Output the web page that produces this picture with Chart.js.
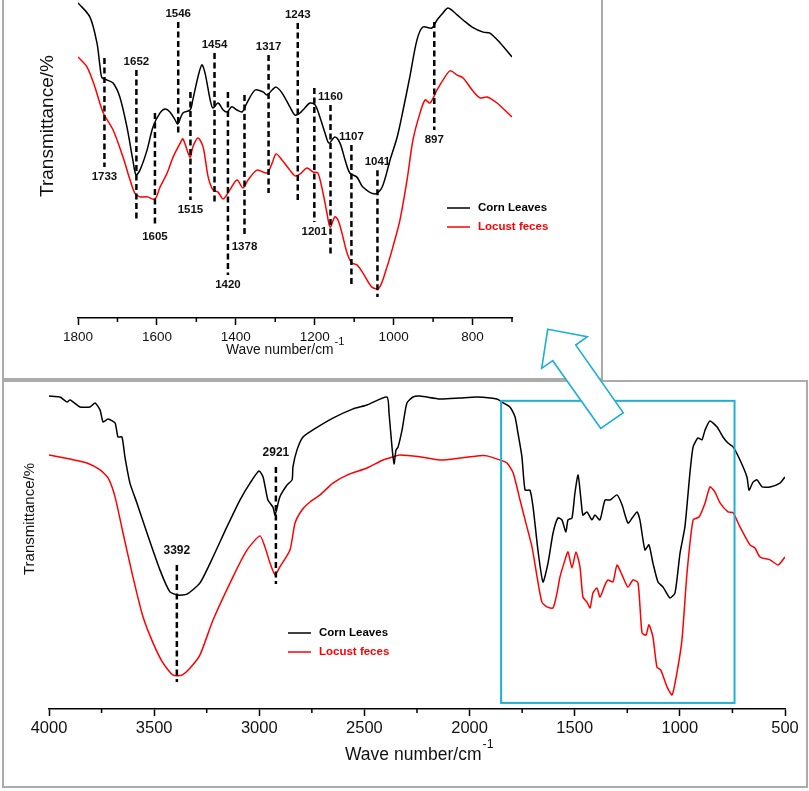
<!DOCTYPE html>
<html>
<head>
<meta charset="utf-8">
<title>FTIR spectra</title>
<script src="https://cdn.jsdelivr.net/npm/chart.js@4.4.1/dist/chart.umd.min.js"></script>
<style>
    body{margin:0;background:#fff;width:809px;height:791px;position:relative;overflow:hidden}
    .panel{position:absolute;border:2px solid #ababab;box-sizing:border-box}
    #p1{left:2px;top:-2px;width:601px;height:382px}
    #p2{left:2px;top:380px;width:806px;height:408px}
    canvas{position:absolute}
    #c1{left:0;top:0}
    #c2{left:0;top:381px}
    #arrow{position:absolute;left:0;top:0}
</style>
</head>
<body>
<div class="panel" id="p1"></div>
<div class="panel" id="p2"></div>
<canvas id="c1" width="602" height="379"></canvas>
<canvas id="c2" width="809" height="410"></canvas>
<svg id="arrow" width="809" height="791">
    <polygon points="547.7,329.3 587.3,336.7 575.7,345 623.3,412.7 600.7,428.3 552.7,360.7 541.7,368.3"
             fill="#fff" stroke="#1fb0d2" stroke-width="1.6"/>
</svg>
<script>
    var FONT = "'Liberation Sans', Arial, sans-serif";
    var seriesNames = ['Corn Leaves', 'Locust feces'];
    var seriesColors = ['#000000', '#ff0000'];

    // zoomed panel, 1800-700 cm-1
    var topTicks = [1800, 1600, 1400, 1200, 1000, 800];
    var topMinor = [1700, 1500, 1300, 1100, 900, 700];
    var topCornWave = [1800,1770,1752,1744,1739,1726,1711,1694,1676,1661,1653,1643,1625,1610,1592,1579,1567,1554,1547,1534,
        1516,1509,1496,1486,1478,1465,1458,1445,1432,1422,1410,1397,1384,1372,1351,1331,1321,1308,1298,1283,
        1263,1250,1237,1230,1212,1199,1187,1174,1164,1149,1136,1123,1111,1093,1078,1047,1029,1009,991,976,
        959,941,926,903,890,875,862,839,824,801,773,756,730,700];
    var topCornT = [99.1,94.7,86.5,78.9,75.5,74.8,73.9,69.5,60.1,49.7,45.0,46.5,52.8,60.1,64.5,65.7,64.8,62.3,61.0,64.5,
        65.4,68.6,75.8,79.6,77.0,68.6,66.0,67.6,65.4,64.8,66.4,65.4,64.8,67.6,71.7,71.1,70.1,71.7,72.6,70.8,
        66.4,63.8,64.5,65.4,67.6,67.0,63.2,58.2,55.0,56.9,55.0,49.7,45.6,44.3,41.2,39.0,41.2,49.7,56.9,65.4,
        75.8,87.4,91.5,91.2,93.7,95.9,97.5,95.3,93.7,91.5,89.9,89.6,86.5,82.1];
    var topLocustWave = [1800,1777,1757,1737,1711,1686,1668,1656,1643,1625,1605,1592,1574,1559,1541,1534,1516,1509,1496,1483,
        1470,1458,1445,1432,1415,1397,1382,1369,1346,1321,1308,1298,1283,1263,1250,1237,1220,1204,1192,1179,
        1169,1161,1149,1141,1131,1118,1106,1093,1078,1055,1037,1017,1002,984,966,951,933,920,908,890,
        875,857,839,824,801,781,763,738,700];
    var topLocustT = [82.1,78.9,72.6,64.8,59.1,50.6,43.4,39.3,38.1,38.1,37.4,41.2,45.6,50.6,55.0,56.3,50.6,53.8,56.6,53.8,
        44.3,40.3,39.6,37.4,40.3,43.4,40.9,43.4,46.5,45.6,48.7,51.6,49.7,46.5,44.7,45.3,47.2,45.9,45.6,39.3,
        33.0,28.6,31.8,30.8,26.7,20.4,17.3,16.7,14.2,9.7,9.4,16.0,22.3,30.8,43.4,56.0,64.5,68.6,67.6,71.7,
        74.8,77.7,76.4,75.5,71.7,69.2,69.5,67.6,63.2];
    var topPeaks = [1733, 1652, 1605, 1546, 1515, 1454, 1420, 1378, 1317, 1243, 1201, 1160, 1107, 1041, 897];
    var topPeakHi = [81.8, 78.0, 64.5, 93.1, 71.1, 83.3, 71.1, 70.1, 82.7, 92.8, 72.3, 67.0, 54.4, 46.5, 93.1];
    var topPeakLo = [47.5, 30.2, 28.6, 57.5, 37.1, 35.5, 13.5, 25.5, 39.3, 37.1, 30.2, 19.2, 9.7, 6.6, 59.1];
    var topPeakSide = ['below','above','below','above','below','above','below','below','above','above','below','above','above','above','below'];

    // full spectrum, 4000-500 cm-1
    var bottomTicks = [4000, 3500, 3000, 2500, 2000, 1500, 1000, 500];
    var bottomMinor = [3750, 3250, 2750, 2250, 1750, 1250, 750];
    var bottomCornWave = [4000,3948,3914,3900,3853,3805,3781,3757,3743,3719,3686,3672,3653,3639,3615,3582,3534,3472,3425,3387,
        3344,3282,3220,3154,3092,3044,3001,2982,2959,2935,2925,2902,2868,2844,2840,2821,2792,2745,2650,2554,
        2488,2393,2383,2369,2359,2350,2340,2321,2298,2269,2236,2141,2046,1965,1870,1846,1808,1784,1770,1751,
        1736,1713,1698,1675,1651,1627,1603,1580,1561,1542,1532,1513,1499,1484,1470,1461,1442,1418,1404,1380,
        1356,1332,1299,1275,1247,1223,1204,1190,1166,1147,1128,1104,1080,1047,1023,999,976,952,937,914,
        895,880,857,823,795,771,747,714,681,671,652,633,609,571,524,500];
    var bottomCornT = [97.8,97.5,95.9,96.6,94.4,94.4,95.6,93.4,89.7,90.6,89.4,85.0,85.0,78.8,70.6,64.4,55.0,43.4,36.6,35.6,
        35.9,39.4,47.5,56.9,65.3,70.6,74.4,72.5,65.3,63.1,60.6,66.3,70.0,71.6,75.6,80.9,85.0,87.2,90.9,93.8,
        95.0,97.5,92.5,81.9,76.6,80.9,81.9,87.2,95.6,97.5,97.8,96.9,97.2,97.5,96.9,95.9,94.4,91.3,86.3,78.8,
        68.4,68.4,63.1,49.7,39.7,45.6,55.0,59.7,59.1,55.3,59.1,59.7,67.5,73.1,65.3,60.6,61.6,59.1,60.6,59.1,
        65.3,65.3,66.9,63.8,58.1,60.0,61.6,59.1,49.7,51.3,45.6,39.7,38.1,34.7,36.3,48.8,56.9,73.8,81.9,84.7,
        84.1,87.2,90.0,88.1,85.0,83.1,81.9,77.8,72.5,68.4,70.9,71.6,69.4,69.4,70.6,72.5];
    var bottomLocustWave = [4000,3900,3819,3757,3719,3686,3648,3601,3553,3505,3458,3410,3368,3329,3282,3220,3125,3058,2997,2973,
        2949,2925,2902,2854,2830,2797,2759,2711,2650,2583,2488,2412,2364,2331,2236,2141,2046,1965,1917,1855,
        1822,1793,1760,1736,1703,1679,1656,1632,1603,1584,1570,1546,1532,1513,1494,1475,1461,1442,1427,1413,
        1394,1380,1356,1342,1318,1299,1275,1247,1223,1199,1180,1161,1147,1128,1109,1091,1061,1037,1014,990,
        966,937,909,880,857,833,809,771,747,714,667,643,619,571,533,500];
    var bottomLocustT = [79.4,78.1,76.9,74.7,72.2,66.3,55.0,41.3,28.8,20.6,14.4,10.6,10.6,12.8,16.9,27.8,41.3,49.7,54.1,50.6,
        45.6,41.9,44.4,49.7,58.1,62.2,64.7,66.9,70.6,73.1,75.3,77.8,78.8,79.4,78.8,77.8,78.4,79.1,79.1,77.8,
        76.9,73.8,65.3,59.1,50.6,41.3,33.4,31.9,31.6,36.3,41.3,46.6,49.1,44.1,49.1,44.4,35.0,33.4,31.6,36.3,
        37.8,35.0,38.8,40.3,39.7,45.0,41.9,38.1,40.3,39.4,23.8,23.1,26.3,22.5,13.1,12.2,6.9,4.4,11.3,21.6,
        42.5,59.1,60.0,64.4,69.4,67.8,64.4,61.6,61.3,56.9,51.3,50.3,47.5,46.6,45.0,47.5];
    var bottomPeaks = [3392, 2921];
    var bottomPeakHi = [45.0, 75.6];
    var bottomPeakLo = [8.4, 39.1];
    var bottomPeakSide = ['above', 'above'];
    // region shown in the zoomed panel (wave number / transmittance)
    var zoomBox = {from: 1850, to: 740, hi: 96.3, lo: 1.9};

    function pts(xs, ys){
        return xs.map(function(x, i){ return {x: x, y: ys[i]}; });
    }

    function buildDatasets(peaks, hi, lo, curves, tension){
        var ds = [];
        // dashed markers first so they are painted on top of the spectra
        peaks.forEach(function(p, i){
            ds.push({data: [{x: p, y: hi[i]}, {x: p, y: lo[i]}], borderColor: '#000', borderWidth: 2.5,
                borderDash: [6, 3.5], pointRadius: 0, tension: 0});
        });
        curves.forEach(function(c, i){
            ds.push({label: seriesNames[i], data: c, borderColor: seriesColors[i], borderWidth: 1.5,
                pointRadius: 0, tension: tension});
        });
        return ds;
    }

    var decor = {
        id: 'decor',
        afterDatasetsDraw: function(chart, args, o){
            var ctx = chart.ctx, xs = chart.scales.x, ys = chart.scales.y, a = chart.chartArea;
            ctx.save();
            // minor ticks
            ctx.strokeStyle = '#000';
            ctx.lineWidth = 1.5;
            o.minor.forEach(function(v){
                var px = xs.getPixelForValue(v);
                ctx.beginPath();
                ctx.moveTo(px, a.bottom);
                ctx.lineTo(px, a.bottom + 4);
                ctx.stroke();
            });
            if (o.box){
                ctx.strokeStyle = '#1fb0d2';
                ctx.lineWidth = 2;
                var x1 = xs.getPixelForValue(o.box.from), x2 = xs.getPixelForValue(o.box.to);
                var y1 = ys.getPixelForValue(o.box.hi), y2 = ys.getPixelForValue(o.box.lo);
                ctx.strokeRect(x1, y1, x2 - x1, y2 - y1);
            }
            // peak labels
            ctx.fillStyle = '#111';
            ctx.font = 'bold ' + o.peakFont + 'px ' + FONT;
            ctx.textAlign = 'center';
            ctx.textBaseline = 'middle';
            o.peaks.forEach(function(p, i){
                var px = xs.getPixelForValue(p);
                var py = o.side[i] == 'above' ? ys.getPixelForValue(o.hi[i]) - o.gapAbove
                                              : ys.getPixelForValue(o.lo[i]) + o.gapBelow;
                ctx.fillText(String(p), px, py);
            });
            // legend
            ctx.textAlign = 'left';
            ctx.font = 'bold 11.5px ' + FONT;
            seriesNames.forEach(function(n, i){
                var ly = o.legend.y + i * o.legend.gap;
                ctx.strokeStyle = seriesColors[i];
                ctx.lineWidth = 1.5;
                ctx.beginPath();
                ctx.moveTo(o.legend.x, ly);
                ctx.lineTo(o.legend.x + 23, ly);
                ctx.stroke();
                ctx.fillStyle = seriesColors[i];
                ctx.fillText(n, o.legend.x + 31, ly);
            });
            // axis titles
            ctx.fillStyle = '#111';
            ctx.font = o.xTitle.size + 'px ' + FONT;
            var t = 'Wave number/cm';
            ctx.fillText(t, o.xTitle.x, o.xTitle.y);
            var w = ctx.measureText(t).width;
            ctx.font = o.xTitle.sup + 'px ' + FONT;
            ctx.fillText('-1', o.xTitle.x + w + 1, o.xTitle.y - o.xTitle.raise);
            ctx.translate(o.yTitle.x, o.yTitle.y);
            ctx.rotate(-Math.PI / 2);
            ctx.textAlign = 'center';
            ctx.font = o.yTitle.size + 'px ' + FONT;
            ctx.fillText('Transmittance/%', 0, 0);
            ctx.restore();
        }
    };

    function makeChart(id, cfg){
        return new Chart(document.getElementById(id), {
            type: 'line',
            data: {datasets: cfg.datasets},
            plugins: [decor],
            options: {
                responsive: false,
                animation: false,
                layout: {padding: cfg.padding},
                plugins: {legend: {display: false}, tooltip: {enabled: false}, decor: cfg.decor},
                scales: {
                    x: {
                        type: 'linear', reverse: true, min: cfg.min, max: cfg.max,
                        afterBuildTicks: function(s){ s.ticks = cfg.ticks.map(function(v){ return {value: v}; }); },
                        afterFit: function(s){ s.height = cfg.axisHeight; },
                        ticks: {font: {family: FONT, size: cfg.tickSize}, color: '#111', padding: cfg.tickPad,
                            maxRotation: 0, autoSkip: false, callback: function(v){ return String(v); }},
                        grid: {display: true, drawOnChartArea: false, drawTicks: true, tickLength: 7,
                            tickColor: '#000', tickWidth: 1.5},
                        border: {display: true, color: '#000', width: 1.5}
                    },
                    y: {display: false, min: 0, max: 100}
                }
            }
        });
    }

    makeChart('c1', {
        datasets: buildDatasets(topPeaks, topPeakHi, topPeakLo,
            [pts(topCornWave, topCornT), pts(topLocustWave, topLocustT)], 0.3),
        padding: {left: 78, right: 90, top: 0, bottom: 0},
        min: 700, max: 1800, ticks: topTicks, axisHeight: 61, tickSize: 13.5, tickPad: 4,
        decor: {minor: topMinor, peaks: topPeaks, hi: topPeakHi, lo: topPeakLo, side: topPeakSide,
            gapAbove: 8, gapBelow: 10, peakFont: 11.5,
            legend: {x: 447, y: 208, gap: 19},
            xTitle: {x: 226, y: 350, size: 13.8, sup: 11, raise: 8},
            yTitle: {x: 48, y: 126, size: 19}}
    });

    makeChart('c2', {
        datasets: buildDatasets(bottomPeaks, bottomPeakHi, bottomPeakLo,
            [pts(bottomCornWave, bottomCornT), pts(bottomLocustWave, bottomLocustT)], 0.2),
        padding: {left: 49, right: 24, top: 8, bottom: 0},
        min: 500, max: 4000, ticks: bottomTicks, axisHeight: 82, tickSize: 16.5, tickPad: 3,
        decor: {minor: bottomMinor, peaks: bottomPeaks, hi: bottomPeakHi, lo: bottomPeakLo, side: bottomPeakSide,
            gapAbove: 14, gapBelow: 10, peakFont: 12, box: zoomBox,
            legend: {x: 288, y: 252, gap: 19},
            xTitle: {x: 345, y: 374, size: 17.5, sup: 12.5, raise: 10},
            yTitle: {x: 30, y: 138, size: 15}}
    });
</script>
</body>
</html>
